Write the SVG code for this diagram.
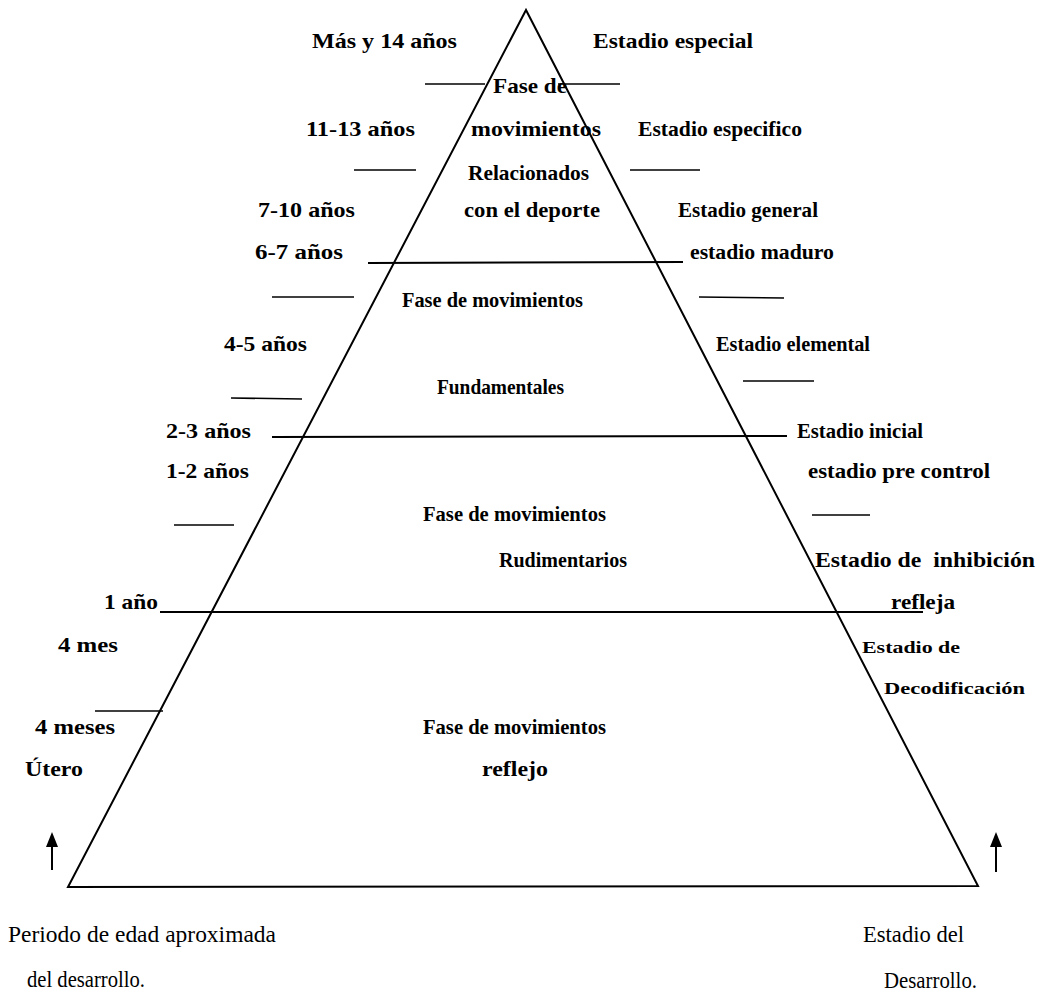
<svg xmlns="http://www.w3.org/2000/svg" width="1044" height="997" viewBox="0 0 1044 997">
<style>
.t{font-family:"Liberation Serif","Times New Roman",serif;font-weight:bold;font-size:21px;fill:#000}
.s{font-size:17px}
.b{font-family:"Liberation Serif","Times New Roman",serif;font-size:23px;fill:#000}
.ln{stroke:#000;stroke-width:2;fill:none}
.d{stroke:#000;stroke-width:1.6;fill:none}
.ah{fill:#000;stroke:none}
</style>
<g id="pyramid">
<path class="ln" d="M526,10 L68,887 L978,886 Z"/>
</g>
<g id="connectors">
<line class="ln" x1="368" y1="263" x2="683" y2="262"/>
<line class="ln" x1="272" y1="437" x2="787" y2="436"/>
<line class="ln" x1="160" y1="612" x2="923" y2="612"/>
<line class="d" x1="425" y1="84" x2="485" y2="84"/>
<line class="d" x1="558" y1="84" x2="620" y2="84"/>
<line class="d" x1="354" y1="170" x2="416" y2="170"/>
<line class="d" x1="630" y1="170" x2="700" y2="170"/>
<line class="d" x1="272" y1="297" x2="354" y2="297"/>
<line class="d" x1="699" y1="297" x2="784" y2="298"/>
<line class="d" x1="231" y1="398" x2="302" y2="399"/>
<line class="d" x1="743" y1="381" x2="814" y2="381"/>
<line class="d" x1="174" y1="525" x2="234" y2="525"/>
<line class="d" x1="812" y1="515" x2="870" y2="515"/>
<line class="d" x1="95" y1="711" x2="163" y2="711"/>
<line class="ln" x1="52" y1="870" x2="52" y2="844"/>
<path class="ah" d="M46,847 L52,832 L58,847 Z"/>
<line class="ln" x1="996" y1="872" x2="996" y2="844"/>
<path class="ah" d="M990,847 L996,832 L1002,847 Z"/>
</g>
<g id="phase-sport">
<text class="t" x="493" y="93" textLength="74" lengthAdjust="spacingAndGlyphs">Fase de</text>
<text class="t" x="471" y="136" textLength="130" lengthAdjust="spacingAndGlyphs">movimientos</text>
<text class="t" x="468" y="180" textLength="121" lengthAdjust="spacingAndGlyphs">Relacionados</text>
<text class="t" x="464" y="217" textLength="136" lengthAdjust="spacingAndGlyphs">con el deporte</text>
</g>
<g id="phase-fundamental">
<text class="t" x="402" y="307" textLength="181" lengthAdjust="spacingAndGlyphs">Fase de movimientos</text>
<text class="t" x="437" y="394" textLength="127" lengthAdjust="spacingAndGlyphs">Fundamentales</text>
</g>
<g id="phase-rudimentary">
<text class="t" x="423" y="521" textLength="183" lengthAdjust="spacingAndGlyphs">Fase de movimientos</text>
<text class="t" x="499" y="567" textLength="128" lengthAdjust="spacingAndGlyphs">Rudimentarios</text>
</g>
<g id="phase-reflex">
<text class="t" x="423" y="734" textLength="183" lengthAdjust="spacingAndGlyphs">Fase de movimientos</text>
<text class="t" x="482" y="776" textLength="66" lengthAdjust="spacingAndGlyphs">reflejo</text>
</g>
<g id="ages">
<text class="t" x="312" y="48" textLength="145" lengthAdjust="spacingAndGlyphs">Más y 14 años</text>
<text class="t" x="306" y="136" textLength="109" lengthAdjust="spacingAndGlyphs">11-13 años</text>
<text class="t" x="258" y="217" textLength="97" lengthAdjust="spacingAndGlyphs">7-10 años</text>
<text class="t" x="255" y="259" textLength="88" lengthAdjust="spacingAndGlyphs">6-7 años</text>
<text class="t" x="224" y="351" textLength="83" lengthAdjust="spacingAndGlyphs">4-5 años</text>
<text class="t" x="166" y="438" textLength="85" lengthAdjust="spacingAndGlyphs">2-3 años</text>
<text class="t" x="166" y="478" textLength="83" lengthAdjust="spacingAndGlyphs">1-2 años</text>
<text class="t" x="104" y="609" textLength="54" lengthAdjust="spacingAndGlyphs">1 año</text>
<text class="t" x="58" y="652" textLength="60" lengthAdjust="spacingAndGlyphs">4 mes</text>
<text class="t" x="35" y="734" textLength="80" lengthAdjust="spacingAndGlyphs">4 meses</text>
<text class="t" x="25" y="776" textLength="58" lengthAdjust="spacingAndGlyphs">Útero</text>
</g>
<g id="stages">
<text class="t" x="593" y="48" textLength="160" lengthAdjust="spacingAndGlyphs">Estadio especial</text>
<text class="t" x="638" y="136" textLength="164" lengthAdjust="spacingAndGlyphs">Estadio especifico</text>
<text class="t" x="678" y="217" textLength="140" lengthAdjust="spacingAndGlyphs">Estadio general</text>
<text class="t" x="690" y="259" textLength="144" lengthAdjust="spacingAndGlyphs">estadio maduro</text>
<text class="t" x="716" y="351" textLength="154" lengthAdjust="spacingAndGlyphs">Estadio elemental</text>
<text class="t" x="797" y="438" textLength="126" lengthAdjust="spacingAndGlyphs">Estadio inicial</text>
<text class="t" x="808" y="478" textLength="182" lengthAdjust="spacingAndGlyphs">estadio pre control</text>
<text class="t" x="815" y="567" textLength="220" lengthAdjust="spacingAndGlyphs" xml:space="preserve">Estadio de  inhibición</text>
<text class="t" x="891" y="609" textLength="64" lengthAdjust="spacingAndGlyphs">refleja</text>
<text class="t s" x="862" y="653" textLength="98" lengthAdjust="spacingAndGlyphs">Estadio de</text>
<text class="t s" x="884" y="694" textLength="141" lengthAdjust="spacingAndGlyphs">Decodificación</text>
</g>
<g id="footer">
<text class="b" x="8" y="942" textLength="268" lengthAdjust="spacingAndGlyphs">Periodo de edad aproximada</text>
<text class="b" x="27" y="987" textLength="118" lengthAdjust="spacingAndGlyphs">del desarrollo.</text>
<text class="b" x="863" y="942" textLength="101" lengthAdjust="spacingAndGlyphs">Estadio del</text>
<text class="b" x="884" y="988" textLength="93" lengthAdjust="spacingAndGlyphs">Desarrollo.</text>
</g>
</svg>
